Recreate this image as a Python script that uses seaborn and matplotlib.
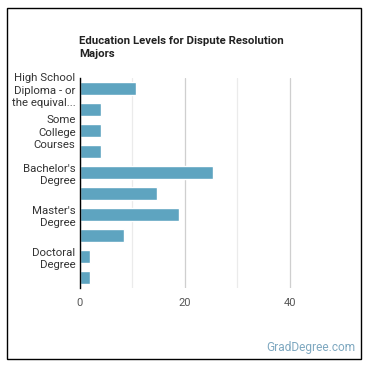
import matplotlib
matplotlib.use("Agg")
import matplotlib.pyplot as plt
import matplotlib.patches as mpatches
import seaborn as sns
import pandas as pd

# ---- data ----
categories = [
    "High School Diploma - or the equivalent",
    "Post-Secondary Certificate",
    "Some College Courses",
    "Associate's Degree",
    "Bachelor's Degree",
    "Post-Baccalaureate Certificate",
    "Master's Degree",
    "Post-Master's Certificate",
    "Doctoral Degree",
    "Post-Doctoral Training",
]
values = [10.7, 4.1, 4.1, 4.1, 25.4, 14.8, 19.0, 8.5, 2.0, 2.0]
tick_labels = [
    "High School\nDiploma - or\nthe equival...", "",
    "Some\nCollege\nCourses", "",
    "Bachelor's\nDegree", "",
    "Master's\nDegree", "",
    "Doctoral\nDegree", "",
]
x_major = [0, 20, 40]
x_minor = [10, 30]
title = "Education Levels for Dispute Resolution\nMajors"
watermark = "GradDegree.com"

sns.set_style("white")
plt.rcParams["font.family"] = ["Roboto", "DejaVu Sans"]

W = H = 370
fig = plt.figure(figsize=(3.7, 3.7), dpi=100)
fig.patch.set_facecolor("white")

ax_left, ax_right, ax_top, ax_bottom = 79.7, 340.0, 78.0, 288.0
ax = fig.add_axes([ax_left / W, 1 - ax_bottom / H,
                   (ax_right - ax_left) / W, (ax_bottom - ax_top) / H])

df = pd.DataFrame({"level": categories, "pct": values})
sns.barplot(data=df, x="pct", y="level", orient="h", color="#5ea4c0",
            saturation=1, width=0.66, ax=ax)

ax.set_xlim(0, (ax_right - ax_left) / 5.25)
ax.set_ylim(len(categories) - 0.5, -0.5)
ax.set_xticks(x_major)
ax.set_xticks(x_minor, minor=True)
ax.set_xticklabels([str(v) for v in x_major])
ax.set_yticks(range(len(categories)))
ax.set_yticklabels(tick_labels, linespacing=1.3)
ax.set_xlabel("")
ax.set_ylabel("")

ax.grid(False)
ax.xaxis.grid(True, which="major", color="#cfcfcf", lw=0.9)
ax.xaxis.grid(True, which="minor", color="#ebebeb", lw=0.9)
ax.set_axisbelow(True)

for s in ["top", "right", "bottom"]:
    ax.spines[s].set_visible(False)
ax.spines["left"].set_color("black")
ax.spines["left"].set_linewidth(1.0)

ax.tick_params(axis="y", length=0, pad=3, labelsize=8.2, labelcolor="#333333")
ax.tick_params(axis="x", which="both", length=0, pad=7, labelsize=8.0,
               labelcolor="#555555")

fig.text(79 / W, 1 - 36 / H, title, ha="left", va="top", fontsize=8.2,
         fontweight="bold", color="#222222", linespacing=1.35)
fig.text(355 / W, 1 - 348 / H, watermark, ha="right", va="center",
         fontsize=8.6, color="#7ea8c0")

fig.add_artist(mpatches.Rectangle((7 / W, 1 - 359 / H), 354 / W, 351 / H,
                                  transform=fig.transFigure, fill=False,
                                  edgecolor="black", lw=1.0))

fig.savefig("out.png", dpi=100)
